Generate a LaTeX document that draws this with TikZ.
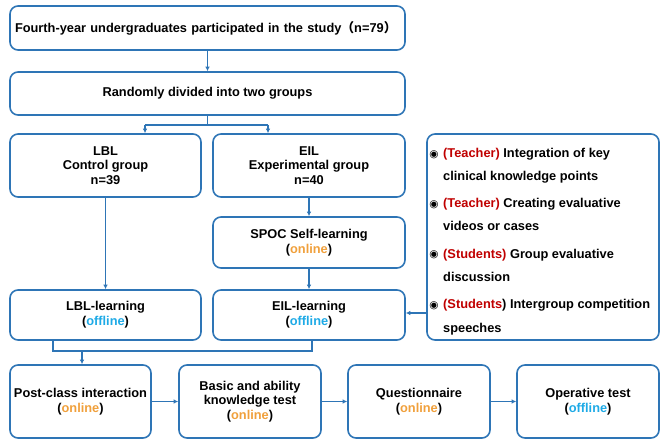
\documentclass[tikz,border=0pt]{standalone}
\usepackage{fontspec}
\setmainfont{Liberation Sans}
\newfontfamily\symfont{DejaVu Sans}
\newfontfamily\cjkfont{Noto Sans CJK SC}
\usetikzlibrary{arrows.meta}
\definecolor{bblue}{RGB}{46,117,182}
\definecolor{onl}{RGB}{240,160,60}
\definecolor{offl}{RGB}{30,170,230}
\definecolor{tred}{RGB}{192,0,0}
\newcommand{\onl}{(\textcolor{onl}{online})}
\newcommand{\offl}{(\textcolor{offl}{offline})}
\newcommand{\bul}{{\symfont\fontsize{10.5}{10.5}\selectfont ◉}}
\begin{document}
\begin{tikzpicture}[x=1pt,y=-1pt,
  box/.style={draw=bblue, line width=1.6pt, rounded corners=8pt, align=center,
    font=\bfseries\fontsize{12.8}{14.8}\selectfont, inner sep=0pt},
  arr/.style={draw=bblue, line width=1.3pt, -{Latex[length=4.5pt,width=4.5pt]}},
  ln/.style={draw=bblue, line width=1.3pt},
  item/.style={anchor=base west, align=left, inner sep=0pt,
    font=\bfseries\fontsize{12.8}{23.5}\selectfont},
  bulnode/.style={anchor=base, inner sep=0pt}]
\useasboundingbox (0,0) rectangle (669,446);
\node[box, minimum width=395pt, minimum height=44pt, text width=385pt, align=left] (b1) at (207.5,28)
  {Fourth-year undergraduates participated in the study{\cjkfont （}n=79{\cjkfont ）}};
\node[box, minimum width=395pt, minimum height=43pt] (b2) at (207.5,93.5) {Randomly divided into two groups};
\node[box, minimum width=191pt, minimum height=63pt] (lbl) at (105.5,165.5) {LBL\\Control group\\n=39};
\node[box, minimum width=192pt, minimum height=63pt] (eil) at (309,165.5) {EIL\\Experimental group\\n=40};
\node[box, minimum width=192pt, minimum height=51pt] (spoc) at (309,242.5) {SPOC Self-learning\\\onl};
\node[box, minimum width=191pt, minimum height=50pt] (lbll) at (105.5,315) {LBL-learning\\\offl};
\node[box, minimum width=192pt, minimum height=50pt] (eill) at (309,315) {EIL-learning\\\offl};
\node[box, minimum width=141pt, minimum height=73pt] (post) at (80.5,401.5) {Post-class interaction\\\onl};
\node[box, minimum width=142pt, minimum height=73pt] (basic) at (250,401.5) {Basic and ability\\knowledge test\\\onl};
\node[box, minimum width=142pt, minimum height=73pt] (quest) at (419,401.5) {Questionnaire\\\onl};
\node[box, minimum width=142pt, minimum height=73pt] (oper) at (588,401.5) {Operative test\\\offl};
\node[box, minimum width=232pt, minimum height=206pt] (rbox) at (543,237) {};
\node[bulnode] (u1) at (434,157.5) {\bul};
\node[item] (i1) at (443,181) {\textcolor{tred}{(Teacher)} Integration of key\\clinical knowledge points};
\node[bulnode] (u2) at (434,207.5) {\bul};
\node[item] (i2) at (443,231) {\textcolor{tred}{(Teacher)} Creating evaluative\\videos or cases};
\node[bulnode] (u3) at (434,258) {\bul};
\node[item] (i3) at (443,281.5) {\textcolor{tred}{(Students)} Group evaluative\\discussion};
\node[bulnode] (u4) at (434,308.5) {\bul};
\node[item] (i4) at (443,332) {\textcolor{tred}{(Students}) Intergroup competition\\speeches};
% connectors
\draw[arr] (b1.south) -- (b2.north);
\coordinate (s0) at (207.5,125);
\coordinate (sl) at (145,125);
\coordinate (sr) at (268,125);
\draw[ln] (b2.south) -- (s0);
\draw[ln] (sl) -- (sr);
\draw[arr] (sl) -- (sl |- lbl.north);
\draw[arr] (sr) -- (sr |- eil.north);
\draw[arr] (lbl.south) -- (lbll.north);
\draw[arr] (eil.south) -- (spoc.north);
\draw[arr] (spoc.south) -- (eill.north);
\coordinate (m1) at (53,351);
\coordinate (m2) at (312,351);
\coordinate (m3) at (82,351);
\draw[ln] (m1 |- lbll.south) -- (m1) -- (m2) -- (m2 |- eill.south);
\draw[arr] (m3) -- (m3 |- post.north);
\draw[arr] (post.east) -- (basic.west);
\draw[arr] (basic.east) -- (quest.west);
\draw[arr] (quest.east) -- (oper.west);
\coordinate (r0) at (0,313);
\draw[arr] (rbox.west |- r0) -- (eill.east |- r0);
\end{tikzpicture}
\end{document}
